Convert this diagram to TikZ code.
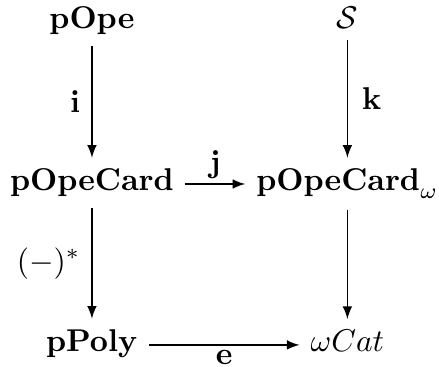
\documentclass[tikz,border=0pt]{standalone}
\usepackage{amsmath}
\usepackage{tikz}
\usetikzlibrary{calc}

\begin{document}
\begin{tikzpicture}[scale=1,
  obj/.style={anchor=base},
  mor/.style={->,>=latex},
  lbl/.style={inner sep=1.5pt}]
\useasboundingbox (0,0) rectangle (4.899,4.094);
\node[obj] (P) at (1.026,3.771) {$\mathbf{pOpe}$};
\node[obj] (S) at (3.877,3.771) {$\mathcal{S}$};
\node[obj] (C) at (1.026,1.965) {$\mathbf{pOpeCard}$};
\node[obj] (W) at (3.877,1.965) {$\mathbf{pOpeCard}_\omega$};
\node[obj] (Y) at (1.026,0.169) {$\mathbf{pPoly}$};
\node[obj] (T) at (3.877,0.169) {$\omega Cat$};
\draw[mor] (P.south)--(C.north) node[lbl,midway,left=2pt] {$\mathbf{i}$};
\draw[mor] (S.south)--(S.south |- W.north) node[lbl,midway,right=3pt] {$\mathbf{k}$};
\draw[mor] (C.mid east)--(W.mid west) node[lbl,midway,above] {$\mathbf{j}$};
\draw[mor] (C.south)--(Y.north) node[lbl,midway,left=2pt] {$(-)^*$};
\draw[mor] (W.south)--(W.south |- T.north);
\draw[mor] (Y.mid east)--(T.mid west) node[lbl,midway,below] {$\mathbf{e}$};
\end{tikzpicture}
\end{document}
